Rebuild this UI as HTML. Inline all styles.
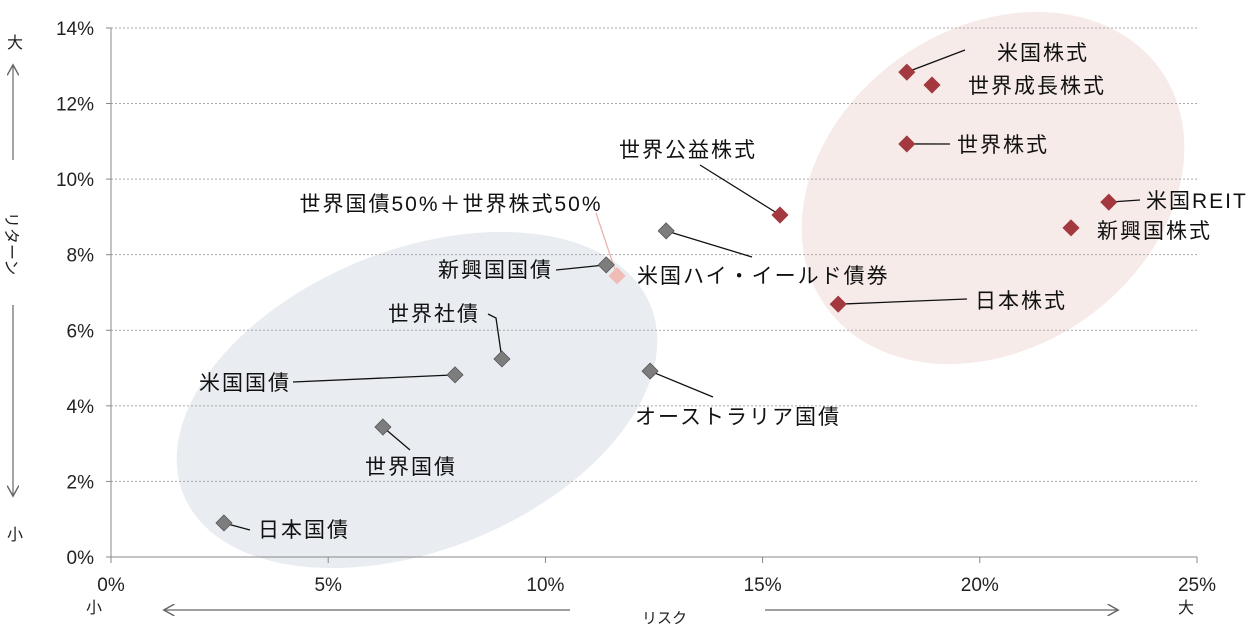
<!DOCTYPE html>
<html><head><meta charset="utf-8"><style>
body{margin:0;background:#fff;}
svg{display:block;font-family:"Liberation Sans","Noto Sans CJK JP",sans-serif;}
.tick{font-size:19px;fill:#222;}
.lbl{font-size:21px;fill:#111;letter-spacing:2px;}
</style></head><body>
<svg id="chart" width="1246" height="628" viewBox="0 0 1246 628">
<defs><marker id="ah" markerWidth="10" markerHeight="10" refX="8" refY="5" orient="auto"><path d="M0,0 L9,5 L0,10" fill="none" stroke="#666" stroke-width="1.2"/></marker></defs>
<ellipse cx="417" cy="400" rx="252" ry="150" transform="rotate(-22 417 400)" fill="#e9ecf1"/>
<ellipse cx="993" cy="188" rx="205" ry="160" transform="rotate(-35 993 188)" fill="#f6ebe9"/>
<g id="grid"></g><g id="axes"></g><g id="leaders"></g><g id="marks"></g><g id="labels"></g>
<g fill="#222" font-size="16">
<text x="7" y="48">大</text>
<line x1="13" y1="160" x2="13" y2="66" stroke="#666" stroke-width="1.2" marker-end="url(#ah)"/>
<text transform="translate(6,212) rotate(90)" font-size="16">リターン</text>
<line x1="13" y1="305" x2="13" y2="495" stroke="#666" stroke-width="1.2" marker-end="url(#ah)"/>
<text x="7" y="540">小</text>
</g>
<g fill="#222" font-size="16">
<text x="86" y="613">小</text>
<line x1="570" y1="610" x2="165" y2="610" stroke="#666" stroke-width="1.2" marker-end="url(#ah)"/>
<text x="642" y="623" font-size="15">リスク</text>
<line x1="765" y1="610" x2="1117" y2="610" stroke="#666" stroke-width="1.2" marker-end="url(#ah)"/>
<text x="1178" y="613">大</text>
</g>
</svg>
<script>
const names=["米国株式","世界成長株式","世界株式","米国REIT","新興国株式","日本株式","世界公益株式","世界国債50%＋世界株式50%","米国ハイ・イールド債券","新興国国債","世界社債","米国国債","オーストラリア国債","世界国債","日本国債"];
const risk=[18.32,18.90,18.32,22.97,22.10,16.74,15.40,11.65,12.78,11.40,9.00,7.92,12.41,6.26,2.60];
const ret=[12.83,12.49,10.93,9.39,8.71,6.69,9.05,7.44,8.63,7.73,5.24,4.82,4.92,3.44,0.90];
const group=["eq","eq","eq","eq","eq","eq","eq","mix","bd","bd","bd","bd","bd","bd","bd"];
const xTicks=[0,5,10,15,20,25];
const yTicks=[0,2,4,6,8,10,12,14];
const X=v=>111+v*43.44, Y=v=>557-v*37.79;
const NS="http://www.w3.org/2000/svg";
function mk(t,a,p,txt){const e=document.createElementNS(NS,t);for(const k in a)e.setAttribute(k,a[k]);if(txt!=null)e.textContent=txt;document.getElementById(p).appendChild(e);return e;}
yTicks.forEach(v=>{
 if(v>0){const g=mk('line',{x1:111,x2:1197,y1:Y(v),y2:Y(v),stroke:'#aaa','stroke-dasharray':'2,2'},'grid');
 
 }
 const t=mk('text',{x:94,y:Y(v)+7,'text-anchor':'end',class:'tick'},'axes',v+'%');
 
 
 mk('line',{x1:106,x2:111,y1:Y(v),y2:Y(v),stroke:'#888'},'axes');
});
xTicks.forEach(v=>{
 const t=mk('text',{x:X(v),y:591,'text-anchor':'middle',class:'tick'},'axes',v+'%');
 
 
 mk('line',{x1:X(v),x2:X(v),y1:557,y2:563,stroke:'#888'},'axes');
});
const ya=mk('line',{x1:111,x2:111,y1:28,y2:557,stroke:'#888'},'axes');


const xa=mk('line',{x1:111,x2:1197,y1:557,y2:557,stroke:'#888'},'axes');


const lab=[[997,60,'start',[965,50]],[968,93,'start',null],[957,152,'start',[950,144]],[1146,208,'start',[1140,200]],[1097,238,'start',null],[975,308,'start',[967,299]],[688,157,'middle',[700,165]],[451,211,'middle',[596,213]],[637,283,'start',[752,257]],[553,277,'end',[556,270]],[434,321,'middle',[496,318,488,314]],[291,390,'end',[293,382]],[635,424,'start',[713,397]],[411,474,'middle',[410,450]],[258,537,'start',[250,530]]];
risk.forEach((r,i)=>{
 const px=X(r),py=Y(ret[i]);const L=lab[i];
 if(L[3]){let pts=px+','+py+' ';for(let k=0;k<L[3].length;k+=2)pts+=L[3][k]+','+L[3][k+1]+' ';
  const l=mk('polyline',{points:pts,fill:'none',stroke:group[i]=='mix'?'#e8b4ae':'#111','stroke-width':1.3},'leaders');
  
  }
 const c=group[i]=='eq'?'#a3383e':group[i]=='mix'?'#efbcb6':'#7d7d7d';
 const d=mk('polygon',{points:`${px},${py-8} ${px+8},${py} ${px},${py+8} ${px-8},${py}`,fill:c,stroke:group[i]=='bd'?'#555':c,'stroke-width':0.8},'marks');
 
 
 const t=mk('text',{x:L[0],y:L[1],'text-anchor':L[2],class:'lbl'},'labels',names[i]);
 
 
});
</script>
</body></html>
